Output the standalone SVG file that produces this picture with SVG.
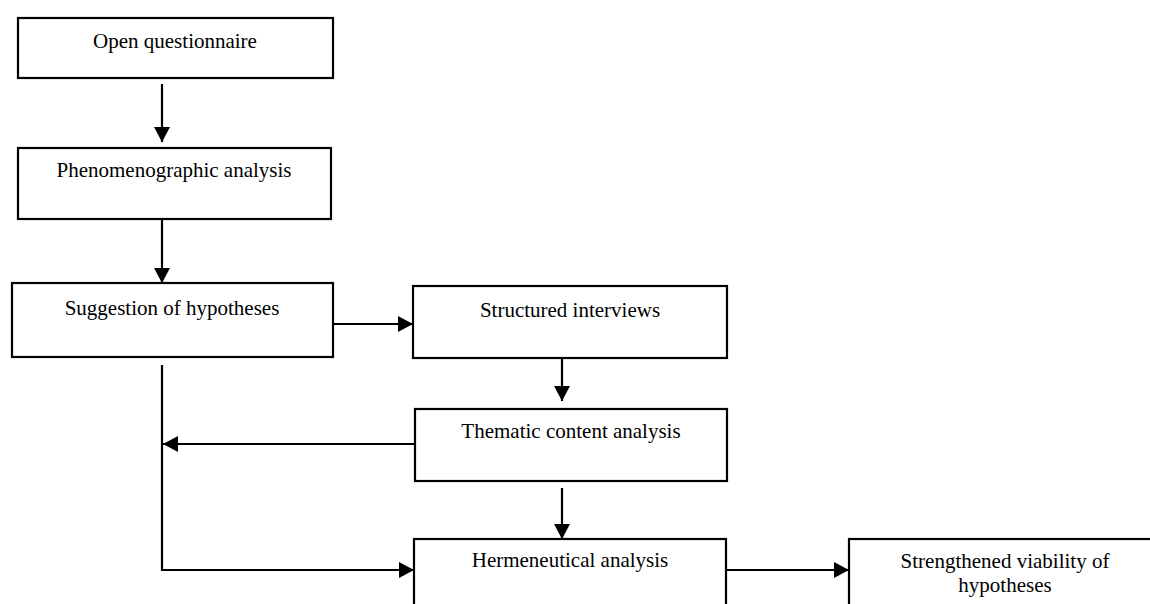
<svg xmlns="http://www.w3.org/2000/svg" width="1150" height="604" viewBox="0 0 1150 604">
<style>
.box{fill:#fff;stroke:#000;stroke-width:2.2}
.lbl{font-family:"Liberation Serif","Times New Roman",serif;font-size:21px;fill:#000;text-anchor:middle}
.con{fill:none;stroke:#000;stroke-width:2.2}
</style>
<defs>
<marker id="ah" markerUnits="userSpaceOnUse" markerWidth="16" markerHeight="16" refX="15" refY="8" orient="auto">
<path d="M0,0 L15,8 L0,16 z" fill="#000"/>
</marker>
</defs>
<rect width="1150" height="604" fill="#fff"/>
<g id="connectors">
<line class="con" x1="162" y1="84" x2="162" y2="142" marker-end="url(#ah)"/>
<line class="con" x1="162" y1="219" x2="162" y2="283" marker-end="url(#ah)"/>
<line class="con" x1="333" y1="324" x2="413" y2="324" marker-end="url(#ah)"/>
<line class="con" x1="562" y1="358" x2="562" y2="401" marker-end="url(#ah)"/>
<line class="con" x1="415" y1="444" x2="163" y2="444" marker-end="url(#ah)"/>
<polyline class="con" points="162,365 162,570 414,570" marker-end="url(#ah)"/>
<line class="con" x1="562" y1="488" x2="562" y2="539" marker-end="url(#ah)"/>
<line class="con" x1="726" y1="570" x2="849" y2="570" marker-end="url(#ah)"/>
</g>
<g id="n1"><rect class="box" x="18" y="18" width="315" height="60"/><text class="lbl" x="175" y="48">Open questionnaire</text></g>
<g id="n2"><rect class="box" x="18" y="148" width="313" height="71"/><text class="lbl" x="174" y="177">Phenomenographic analysis</text></g>
<g id="n3"><rect class="box" x="12" y="283" width="321" height="74"/><text class="lbl" x="172" y="315">Suggestion of hypotheses</text></g>
<g id="n4"><rect class="box" x="413" y="286" width="314" height="72"/><text class="lbl" x="570" y="317">Structured interviews</text></g>
<g id="n5"><rect class="box" x="415" y="409" width="312" height="72"/><text class="lbl" x="571" y="438">Thematic content analysis</text></g>
<g id="n6"><rect class="box" x="414" y="539" width="312" height="80"/><text class="lbl" x="570" y="567">Hermeneutical analysis</text></g>
<g id="n7"><rect class="box" x="849" y="539" width="312" height="80"/><text class="lbl" x="1005" y="568">Strengthened viability of</text><text class="lbl" x="1005" y="592">hypotheses</text></g>
</svg>
